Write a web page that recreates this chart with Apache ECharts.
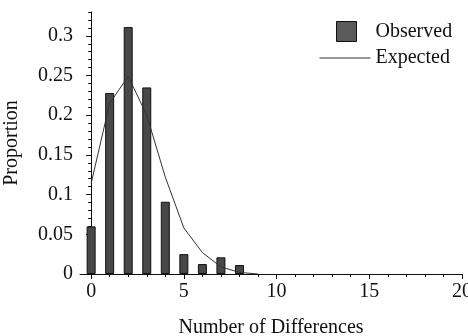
<!DOCTYPE html>
<html>
<head>
<meta charset="utf-8">
<script src="https://cdn.jsdelivr.net/npm/echarts@6/dist/echarts.min.js"></script>
<style>html,body{margin:0;padding:0;background:#fff;}#c{width:468px;height:336px;}</style>
</head>
<body>
<div id="c"></div>
<script>
var differences = [0, 1, 2, 3, 4, 5, 6, 7, 8];
var observed = [0.060, 0.228, 0.311, 0.235, 0.091, 0.025, 0.0125, 0.021, 0.0113];
var expectedX = [0, 1, 2, 3, 4, 5, 6, 7, 8, 9];
var expected = [0.114, 0.215, 0.249, 0.200, 0.122, 0.058, 0.027, 0.009, 0.002, 0.0];
var xTickLabels = [0, 5, 10, 15, 20];
var yTickLabels = [0, 0.05, 0.1, 0.15, 0.2, 0.25, 0.3];

var xMinor = [];
for (var i = 0; i <= 20; i++) xMinor.push(i);
var yMinor = [];
for (var j = 0; j <= 33; j++) yMinor.push(+(j / 100).toFixed(2));

var FONT = 'Liberation Serif';
var INK = '#111';

var chart = echarts.init(document.getElementById('c'), null, {renderer: 'canvas'});
chart.setOption({
  backgroundColor: '#fff',
  animation: false,
  textStyle: {fontFamily: FONT, color: INK},
  grid: {left: 80, right: 6, top: 12, bottom: 62, containLabel: false, outerBoundsMode: 'none'},
  legend: [
    {
      data: [{name: 'Observed', itemStyle: {color: '#5a5a5a', borderColor: '#111', borderWidth: 1}}],
      left: 336, top: 21, orient: 'vertical', padding: 0,
      icon: 'rect', itemWidth: 20, itemHeight: 20,
      textStyle: {fontFamily: FONT, fontSize: 20, color: INK, padding: [0, 0, 0, 14]}
    },
    {
      data: ['Expected'], left: 319, top: 48, orient: 'vertical', padding: 0,
      itemWidth: 51, itemHeight: 14,
      itemStyle: {opacity: 0},
      lineStyle: {color: '#333', width: 1},
      textStyle: {fontFamily: FONT, fontSize: 20, color: INK}
    }
  ],
  xAxis: [
    {
      type: 'value', min: -0.6, max: 20,
      name: 'Number of Differences', nameLocation: 'middle', nameGap: 44,
      nameTextStyle: {fontFamily: FONT, fontSize: 20, color: INK},
      axisLine: {show: true, lineStyle: {color: INK, width: 1}},
      axisTick: {show: true, customValues: xTickLabels, length: 5, lineStyle: {color: INK}},
      axisLabel: {customValues: xTickLabels, margin: 8, fontFamily: FONT, fontSize: 20, color: INK},
      splitLine: {show: false}
    },
    {
      type: 'value', min: -0.6, max: 20, position: 'bottom', offset: 0,
      axisLine: {show: false},
      axisTick: {show: true, customValues: xMinor, length: 3, lineStyle: {color: INK}},
      axisLabel: {show: false},
      splitLine: {show: false}
    }
  ],
  yAxis: [
    {
      type: 'value', min: 0, max: 0.33,
      name: 'Proportion', nameLocation: 'middle', nameGap: 58,
      nameTextStyle: {fontFamily: FONT, fontSize: 20, color: INK},
      axisLine: {show: true, lineStyle: {color: INK, width: 1}},
      axisTick: {show: true, customValues: yTickLabels, length: 5, lineStyle: {color: INK}},
      axisLabel: {customValues: yTickLabels, margin: 7, fontFamily: FONT, fontSize: 20, color: INK},
      splitLine: {show: false}
    },
    {
      type: 'value', min: 0, max: 0.33, position: 'left', offset: 0,
      axisLine: {show: false},
      axisTick: {show: true, customValues: yMinor, length: 3, lineStyle: {color: INK}},
      axisLabel: {show: false},
      splitLine: {show: false}
    }
  ],
  series: [
    {
      name: 'Observed', type: 'bar', xAxisIndex: 0, yAxisIndex: 0,
      barWidth: 9,
      itemStyle: {color: '#484848', borderColor: '#111', borderWidth: 1},
      data: differences.map(function (d, k) { return [d, observed[k]]; }),
      z: 2
    },
    {
      name: 'Expected', type: 'line', xAxisIndex: 0, yAxisIndex: 0,
      symbol: 'none', smooth: false,
      lineStyle: {color: '#333', width: 1},
      itemStyle: {color: '#333'},
      data: expectedX.map(function (d, k) { return [d, expected[k]]; }),
      z: 3
    }
  ]
});
</script>
</body>
</html>
